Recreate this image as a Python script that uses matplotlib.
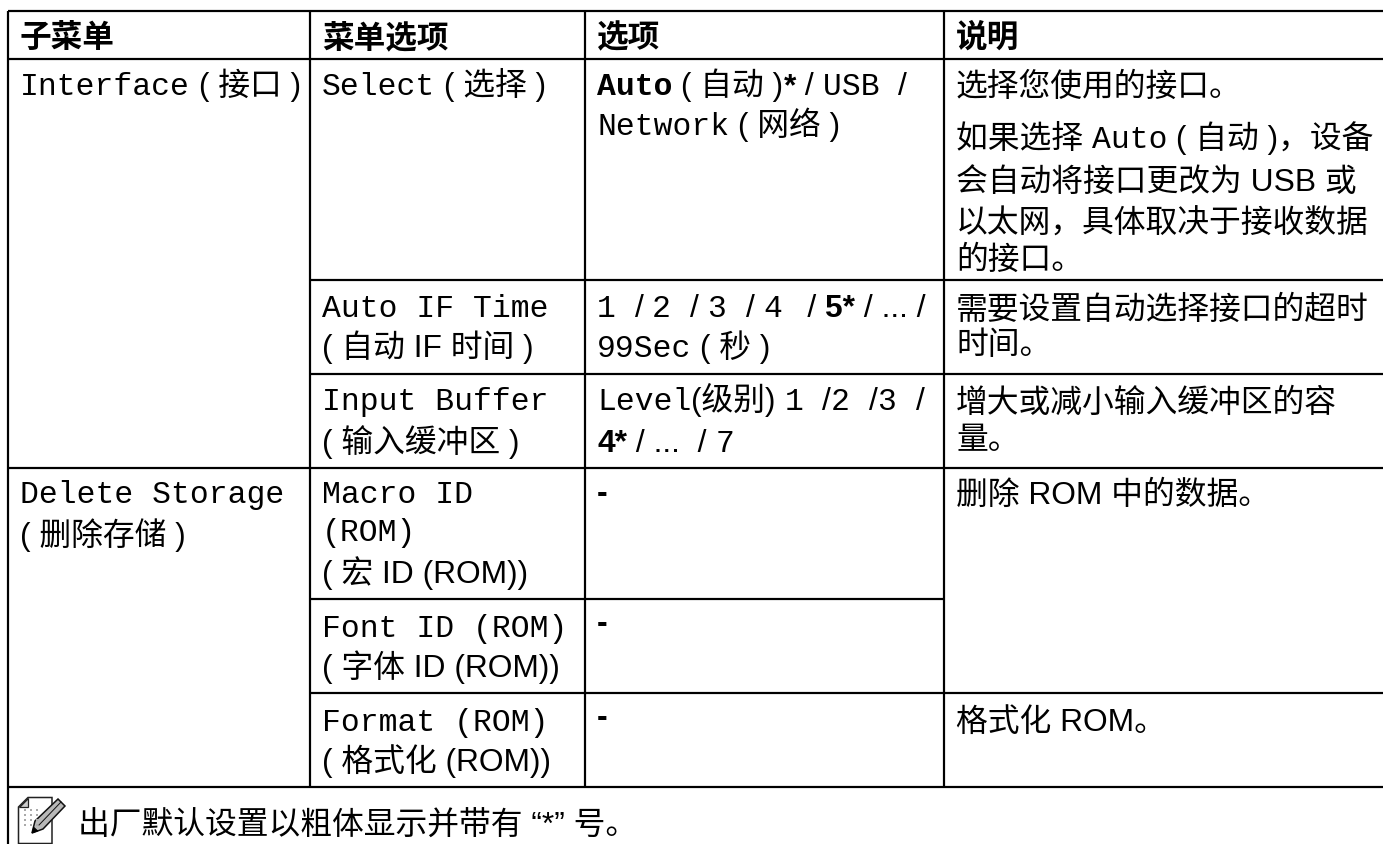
import re
import matplotlib
matplotlib.use('Agg')
import matplotlib.pyplot as plt
from matplotlib.patches import Polygon

# Markup in the cell texts: `mono`, ^^bold mono^^, ##bold sans##, the rest is sans
headers = ['子菜单', '菜单选项', '选项', '说明']

submenu_cells = [
    ['`Interface` ( 接口 )'],
    ['`Delete Storage`', '( 删除存储 )'],
]

menu_option_cells = [
    ['`Select` ( 选择 )'],
    ['`Auto IF Time`', '( 自动 IF 时间 )'],
    ['`Input Buffer`', '( 输入缓冲区 )'],
    ['`Macro ID`', '`(ROM)`', '( 宏 ID (ROM))'],
    ['`Font ID (ROM)`', '( 字体 ID (ROM))'],
    ['`Format (ROM)`', '( 格式化 (ROM))'],
]

option_cells = [
    ['^^Auto^^ ( 自动 )##*## / `USB `/', '`Network` ( 网络 )'],
    ['`1 `/ `2 `/ `3 `/ `4 `\u2009/ ##5*## / ... /', '`99Sec` ( 秒 )'],
    ['`Level`(级别) `1 `/`2 `/`3 `/', '##4*## / ...  / `7`'],
    ['##-##'],
    ['##-##'],
    ['##-##'],
]

description_cells = [
    ['选择您使用的接口。', '如果选择 `Auto` ( 自动 )，设备', '会自动将接口更改为 USB 或', '以太网，具体取决于接收数据', '的接口。'],
    ['需要设置自动选择接口的超时', '时间。'],
    ['增大或减小输入缓冲区的容', '量。'],
    ['删除 ROM 中的数据。'],
    ['格式化 ROM。'],
]

note_text = '出厂默认设置以粗体显示并带有 “*” 号。'

# Layout in pixels of the output image
W, H = 1383, 844
col_edges = [8, 310, 585, 944]
top_y, header_y = 11, 59
row_y = [280, 373.5, 467.5, 598.5, 692.5, 786.5]
LW = 2.2 * 72 / 100

SANS = ['Liberation Sans', 'Noto Sans CJK SC']
MONO = ['Liberation Mono', 'Noto Sans CJK SC']
FONTS = {
    'sans': dict(family=SANS, fontsize=22.9),
    'mono': dict(family=MONO, fontsize=22.6),
    'bmono': dict(family=MONO, fontsize=22.6, fontweight='bold'),
    'bold': dict(family=SANS, fontsize=22.9, fontweight='bold'),
}

fig = plt.figure(figsize=(W / 100, H / 100), dpi=100, facecolor='white')
ax = fig.add_axes([0, 0, 1, 1])
ax.set_xlim(0, W)
ax.set_ylim(H, 0)
ax.axis('off')
renderer = fig.canvas.get_renderer()


def split_runs(markup):
    '''
    Split a cell line into (text, font key) runs
    '''
    runs = []
    for part in re.split(r'(`[^`]*`|\^\^.*?\^\^|##.*?##)', markup):
        if not part:
            continue
        if part.startswith('`'):
            runs.append((part[1:-1], 'mono'))
        elif part.startswith('^^'):
            runs.append((part[2:-2], 'bmono'))
        elif part.startswith('##'):
            runs.append((part[2:-2], 'bold'))
        else:
            runs.append((part, 'sans'))
    return runs


def run_width(text, key):
    # Bars on both sides so spaces and side bearings are counted too
    t = ax.text(0, 0, '|' + text + '|', **FONTS[key])
    full = t.get_window_extent(renderer).width
    t.set_text('||')
    bars = t.get_window_extent(renderer).width
    t.remove()
    return full - bars


def draw_line(x, y, markup):
    for text, key in split_runs(markup):
        ax.text(x, y, text, va='baseline', ha='left', color='black', **FONTS[key])
        x += run_width(text, key)


def draw_cell(x, baselines, lines):
    for y, line in zip(baselines, lines):
        draw_line(x, y, line)


# ---------------------- Grid lines ------------------------------
for y in [top_y, header_y, row_y[2], row_y[5]]:
    ax.hlines(y, col_edges[0], W, color='black', lw=LW)
for y in [row_y[0], row_y[1], row_y[4]]:
    ax.hlines(y, col_edges[1], W, color='black', lw=LW)
ax.hlines(row_y[3], col_edges[1], col_edges[3], color='black', lw=LW)
ax.vlines(col_edges[0], top_y, H, color='black', lw=LW)
for x in col_edges[1:]:
    ax.vlines(x, top_y, row_y[5], color='black', lw=LW)

# ---------------------- Cell texts ------------------------------
text_x = [e + 12 for e in col_edges]

for x, label in zip(text_x, headers):
    ax.text(x, 47, label, va='baseline', ha='left', family=SANS, fontsize=22.8, fontweight='bold')

draw_cell(text_x[0], [95], submenu_cells[0])
draw_cell(text_x[0], [503, 545], submenu_cells[1])

menu_baselines = [[95], [317, 357], [410, 452], [503, 541, 583], [637, 677], [731, 771]]
for baselines, lines in zip(menu_baselines, menu_option_cells):
    draw_cell(text_x[1], baselines, lines)

option_baselines = [[95, 135], [317, 357], [410, 452], [502], [632], [726]]
for baselines, lines in zip(option_baselines, option_cells):
    draw_cell(text_x[2], baselines, lines)

description_baselines = [[96, 148, 191, 233, 269], [319, 354], [412, 449], [504], [731]]
for baselines, lines in zip(description_baselines, description_cells):
    draw_cell(text_x[3], baselines, lines)

draw_line(78, 835, note_text)

# ---------------------- Note icon ------------------------------
ax.add_patch(Polygon([(18.5, 807), (28, 797.5), (52, 797.5), (52, 843.5), (18.5, 843.5)],
                     closed=True, fc='white', ec='#222222', lw=1.1))
ax.add_patch(Polygon([(18.5, 807), (28, 807), (28, 797.5)], closed=True, fc='#cccccc', ec='#222222', lw=0.9))
for gx in [25, 31, 37]:
    for gy in [810, 815, 820, 825]:
        ax.plot(gx, gy, marker='s', ms=1.6, color='#aaaaaa', mew=0)
ax.add_patch(Polygon([(58, 799), (65, 806), (43, 829), (32, 833), (35, 821)],
                     closed=True, fc='#b8b8b8', ec='#111111', lw=1.1))
ax.add_patch(Polygon([(32, 833), (33.5, 827), (38, 831)], closed=True, fc='black', ec='black', lw=0.5))
ax.plot([61, 39], [802, 825], color='#111111', lw=0.7)

fig.savefig('out.png', dpi=100, facecolor='white')
